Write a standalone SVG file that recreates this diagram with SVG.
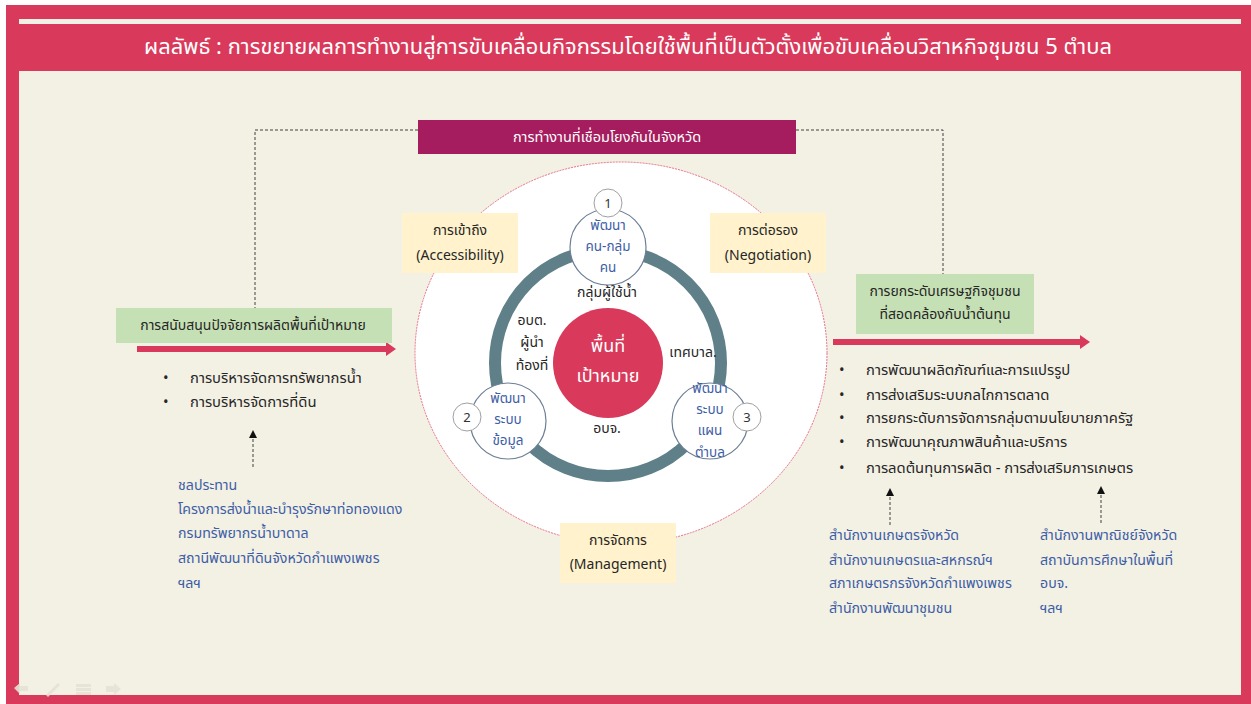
<svg xmlns="http://www.w3.org/2000/svg" width="1251" height="704" viewBox="0 0 1251 704">
<defs>
<style>
.th{font-family:"Noto Sans Thai","Noto Sans Thai UI","Tahoma","DejaVu Sans","Noto Sans",sans-serif;}
.dark{fill:#262626;font-size:14px;}
.bl{fill:#262626;font-size:14.8px;}
.blue{fill:#3d5ea6;font-size:13.5px;}
.src{fill:#3d5ea6;font-size:14.2px;}
.white{fill:#ffffff;}
.mid{text-anchor:middle;}
.dash{stroke:#404040;stroke-width:1;stroke-dasharray:3 2;fill:none;}
.small{fill:#ffffff;stroke:#6d7f96;stroke-width:1.2;}
.num{fill:#ffffff;stroke:#a0a0a0;stroke-width:1;}
.yel{fill:#fff2cc;}
.grn{fill:#c5e0b4;}
</style>
<marker id="ah" markerWidth="8" markerHeight="8" refX="4" refY="4" orient="auto" markerUnits="userSpaceOnUse">
<path d="M0,0 L8,4 L0,8 Z" fill="#111"/>
</marker>
</defs>
<!-- frame -->
<rect x="0" y="0" width="1251" height="704" fill="#ffffff"/>
<rect x="6" y="5" width="1245" height="699" fill="#d9395a"/>
<rect x="19" y="19" width="1222" height="5" fill="#f3f0e4"/>
<rect x="19" y="71" width="1222" height="624" fill="#f3f0e4"/>
<text class="th white mid" x="628" y="54" font-size="21.5" textLength="968" lengthAdjust="spacingAndGlyphs">ผลลัพธ์ : การขยายผลการทำงานสู่การขับเคลื่อนกิจกรรมโดยใช้พื้นที่เป็นตัวตั้งเพื่อขับเคลื่อนวิสาหกิจชุมชน  5 ตำบล</text>

<!-- connectors -->
<g id="connectors">
<path class="dash" d="M418,130 H255 V308"/>
<path class="dash" d="M796,130 H943 V274"/>
<path class="dash" d="M253,467 V434" marker-end="url(#ah)"/>
<path class="dash" d="M890,525 V492" marker-end="url(#ah)"/>
<path class="dash" d="M1101,523 V490" marker-end="url(#ah)"/>
<g id="arrow-left">
<rect x="137" y="346" width="250" height="6" fill="#d9395a"/>
<path d="M386,342 L396,349 L386,356 Z" fill="#d9395a"/>
</g>
<g id="arrow-right">
<rect x="833" y="339" width="248" height="6" fill="#d9395a"/>
<path d="M1080,335 L1090,342 L1080,349 Z" fill="#d9395a"/>
</g>
</g>

<!-- top banner -->
<g id="banner">
<rect x="418" y="120" width="378" height="34" fill="#a51d5e"/>
<text class="th white mid" x="607" y="142" font-size="14.5">การทำงานที่เชื่อมโยงกันในจังหวัด</text>
</g>

<!-- big circle -->
<g id="big-circle">
<ellipse cx="621" cy="353" rx="206" ry="191" fill="#ffffff" stroke="#e8708a" stroke-width="1" stroke-dasharray="2 1"/>
</g>

<g id="ring">
<circle cx="608" cy="363" r="113" fill="none" stroke="#5f8088" stroke-width="12"/>
</g>

<g id="center">
<circle cx="608" cy="363" r="55" fill="#d9395a"/>
<text class="th white mid" x="608" y="352" font-size="18">พื้นที่</text>
<text class="th white mid" x="608" y="382" font-size="18">เป้าหมาย</text>
</g>

<g id="labels-inner">
<text class="th dark mid" x="607" y="297">กลุ่มผู้ใช้น้ำ</text>
<text class="th dark mid" x="532" y="325">อบต.</text>
<text class="th dark mid" x="532" y="347">ผู้นำ</text>
<text class="th dark mid" x="532" y="370">ท้องที่</text>
<text class="th dark mid" x="693" y="357">เทศบาล.</text>
<text class="th dark mid" x="607" y="433">อบจ.</text>
</g>

<g id="node1">
<circle class="small" cx="608" cy="247" r="38"/>
<text class="th blue mid" x="608" y="230">พัฒนา</text>
<text class="th blue mid" x="608" y="251">คน-กลุ่ม</text>
<text class="th blue mid" x="608" y="272">คน</text>
<circle class="num" cx="608" cy="203" r="14"/>
<text class="th mid" x="608" y="208" font-size="13" fill="#333">1</text>
</g>
<g id="node2">
<circle class="small" cx="508" cy="421" r="38"/>
<text class="th blue mid" x="508" y="403">พัฒนา</text>
<text class="th blue mid" x="508" y="424">ระบบ</text>
<text class="th blue mid" x="508" y="445">ข้อมูล</text>
<circle class="num" cx="467" cy="417" r="14"/>
<text class="th mid" x="467" y="422" font-size="13" fill="#333">2</text>
</g>
<g id="node3">
<circle class="small" cx="710" cy="421" r="38"/>
<text class="th blue mid" x="710" y="393">พัฒนา</text>
<text class="th blue mid" x="710" y="414">ระบบ</text>
<text class="th blue mid" x="710" y="435">แผน</text>
<text class="th blue mid" x="710" y="457">ตำบล</text>
<circle class="num" cx="747" cy="417" r="14"/>
<text class="th mid" x="747" y="422" font-size="13" fill="#333">3</text>
</g>

<g id="accessibility">
<rect class="yel" x="402" y="213" width="116" height="60"/>
<text class="th dark mid" x="460" y="235">การเข้าถึง</text>
<text class="th dark mid" x="460" y="260">(Accessibility)</text>
</g>
<g id="negotiation">
<rect class="yel" x="710" y="213" width="116" height="60"/>
<text class="th dark mid" x="768" y="235">การต่อรอง</text>
<text class="th dark mid" x="768" y="260">(Negotiation)</text>
</g>
<g id="management">
<rect class="yel" x="560" y="523" width="116" height="60"/>
<text class="th dark mid" x="618" y="545">การจัดการ</text>
<text class="th dark mid" x="618" y="569">(Management)</text>
</g>

<g id="left-box">
<rect class="grn" x="116" y="308" width="276" height="35"/>
<text class="th dark mid" x="253" y="330" font-size="14.4">การสนับสนุนปัจจัยการผลิตพื้นที่เป้าหมาย</text>
</g>
<g id="left-bullets">
<text class="th bl" x="163" y="383">•</text>
<text class="th bl" x="190" y="383">การบริหารจัดการทรัพยากรน้ำ</text>
<text class="th bl" x="163" y="407">•</text>
<text class="th bl" x="190" y="407">การบริหารจัดการที่ดิน</text>
</g>
<g id="left-sources">
<text class="th src" x="178" y="490">ชลประทาน</text>
<text class="th src" x="178" y="514">โครงการส่งน้ำและบำรุงรักษาท่อทองแดง</text>
<text class="th src" x="178" y="538">กรมทรัพยากรน้ำบาดาล</text>
<text class="th src" x="178" y="563">สถานีพัฒนาที่ดินจังหวัดกำแพงเพชร</text>
<text class="th src" x="178" y="588">ฯลฯ</text>
</g>

<g id="right-box">
<rect class="grn" x="856" y="274" width="178" height="60"/>
<text class="th dark mid" x="945" y="296" font-size="14.4">การยกระดับเศรษฐกิจชุมชน</text>
<text class="th dark mid" x="945" y="319" font-size="14.4">ที่สอดคล้องกับน้ำต้นทุน</text>
</g>
<g id="right-bullets">
<text class="th bl" x="839" y="375">•</text>
<text class="th bl" x="866" y="375">การพัฒนาผลิตภัณฑ์และการแปรรูป</text>
<text class="th bl" x="839" y="400">•</text>
<text class="th bl" x="866" y="400">การส่งเสริมระบบกลไกการตลาด</text>
<text class="th bl" x="839" y="423">•</text>
<text class="th bl" x="866" y="423">การยกระดับการจัดการกลุ่มตามนโยบายภาครัฐ</text>
<text class="th bl" x="839" y="447">•</text>
<text class="th bl" x="866" y="447">การพัฒนาคุณภาพสินค้าและบริการ</text>
<text class="th bl" x="839" y="473">•</text>
<text class="th bl" x="866" y="473">การลดต้นทุนการผลิต  - การส่งเสริมการเกษตร</text>
</g>
<g id="right-sources-1">
<text class="th src" x="829" y="540">สำนักงานเกษตรจังหวัด</text>
<text class="th src" x="829" y="565">สำนักงานเกษตรและสหกรณ์ฯ</text>
<text class="th src" x="829" y="588">สภาเกษตรกรจังหวัดกำแพงเพชร</text>
<text class="th src" x="829" y="613">สำนักงานพัฒนาชุมชน</text>
</g>
<g id="right-sources-2">
<text class="th src" x="1040" y="540">สำนักงานพาณิชย์จังหวัด</text>
<text class="th src" x="1040" y="565">สถาบันการศึกษาในพื้นที่</text>
<text class="th src" x="1040" y="588">อบจ.</text>
<text class="th src" x="1040" y="613">ฯลฯ</text>
</g>

<g id="slide-controls" fill="#e6e3d6" opacity="0.9">
<path d="M14,688 L20,683 V686 H28 V691 H20 V694 Z"/>
<path d="M46,695 L58,683 L60,685 L48,697 Z"/>
<rect x="76" y="684" width="15" height="3"/>
<rect x="76" y="688" width="15" height="3"/>
<rect x="76" y="692" width="15" height="3"/>
<path d="M106,686 H114 V683 L121,689 L114,695 V692 H106 Z"/>
</g>
</svg>
